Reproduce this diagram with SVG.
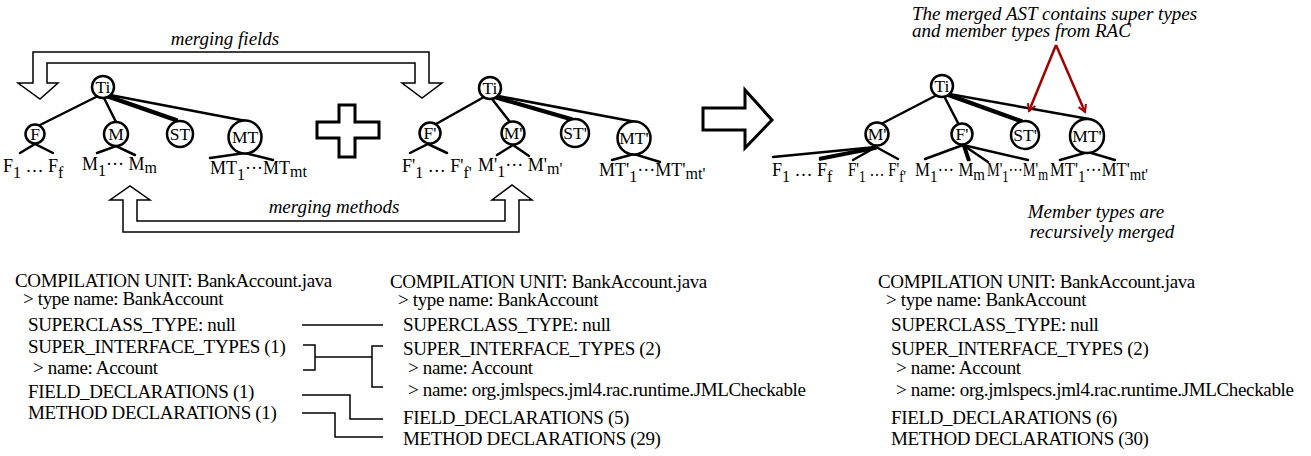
<svg xmlns="http://www.w3.org/2000/svg" width="1311" height="456" viewBox="0 0 1311 456">
<style>
text{font-family:"Liberation Serif","Times New Roman",serif;fill:#000}
.nl{font-size:17.5px;text-anchor:middle}
.leaf{font-size:18px}
.sub{font-size:16px}
.it{font-style:italic;font-size:19px}
.ann{font-style:italic;font-size:19px}
.code{font-size:19px;letter-spacing:-0.35px}
.node circle{fill:#fff;stroke:#000;stroke-width:2.5}
.edge{stroke:#000;stroke-width:2.5;fill:none;stroke-linecap:round}
.thin{stroke:#000;stroke-width:1.5;fill:none}
.block{fill:#fff;stroke:#000;stroke-width:1.5;stroke-linejoin:miter}
.thick{fill:#fff;stroke:#000;stroke-width:3;stroke-linejoin:miter}
.red{stroke:#a00000;stroke-width:2.5;fill:none}
</style>
<defs>
<marker id="rh" markerWidth="10" markerHeight="10" refX="8" refY="5" orient="auto" markerUnits="userSpaceOnUse">
<path d="M1,1 L8,5 L1,9" fill="none" stroke="#a00000" stroke-width="2"/>
</marker>
</defs>

<!-- block arrows and plus -->
<g id="merge-fields-arrow">
<polygon class="block" points="33,83 33,52 429,52 429,83 442,83 422,98 402,83 415,83 415,63 47,63 47,83 58,83 40,99 18,83"/>
<text class="it" x="225" y="45" text-anchor="middle">merging fields</text>
</g>
<g id="merge-methods-arrow">
<polygon class="block" points="123,200 110,200 130,186 150,200 137,200 137,221 505,221 505,200 492,200 512,185 532,200 519,200 519,232 123,232"/>
<text class="it" x="334" y="213" text-anchor="middle">merging methods</text>
</g>
<g id="plus">
<polygon class="thick" points="339,105 355,105 355,122 379,122 379,138 355,138 355,157 339,157 339,138 317,138 317,122 339,122"/>
</g>
<g id="result-arrow">
<polygon class="thick" points="703,108 745,108 745,90 772,120 745,148 745,130 703,130"/>
</g>

<!-- connectors -->
<g id="connectors">
<!-- left tree -->
<line class="edge" x1="98" y1="96" x2="40" y2="125"/>
<line class="edge" x1="104" y1="98" x2="116" y2="122"/>
<line class="edge" x1="107" y1="97" x2="176" y2="121"/>
<line class="edge" x1="108" y1="95.5" x2="177" y2="119.5"/>
<line class="edge" x1="110" y1="95" x2="246" y2="121"/>
<polyline class="edge" points="20,153 35,144 53,153"/>
<polyline class="edge" points="97,153 116,146 135,155"/>
<polyline class="edge" points="210,158 245,153 273,160"/>
<!-- middle tree -->
<line class="edge" x1="484" y1="97" x2="436" y2="124"/>
<line class="edge" x1="492" y1="99" x2="510" y2="122"/>
<line class="edge" x1="495" y1="98" x2="571" y2="120"/>
<line class="edge" x1="496" y1="96.5" x2="572" y2="118.5"/>
<line class="edge" x1="498" y1="96" x2="636" y2="122"/>
<polyline class="edge" points="410,153 428,144 447,153"/>
<polyline class="edge" points="497,155 513,145 529,156"/>
<polyline class="edge" points="612,160 634,154 660,162"/>
<!-- merged tree -->
<line class="edge" x1="937" y1="95" x2="883" y2="123"/>
<line class="edge" x1="944" y1="96" x2="958" y2="123"/>
<line class="edge" x1="946" y1="95" x2="1021" y2="122"/>
<line class="edge" x1="947" y1="93.5" x2="1022" y2="120.5"/>
<line class="edge" x1="949" y1="94" x2="1089" y2="119"/>
<line class="edge" x1="876" y1="147" x2="773" y2="157"/>
<line class="edge" x1="876" y1="147" x2="820" y2="158"/>
<line class="edge" x1="876" y1="148.5" x2="820" y2="159.5"/>
<line class="edge" x1="876" y1="147" x2="853" y2="160"/>
<line class="edge" x1="876" y1="147" x2="898" y2="159"/>
<line class="edge" x1="963" y1="145" x2="925" y2="159"/>
<line class="edge" x1="963" y1="145" x2="968" y2="160"/>
<line class="edge" x1="964.5" y1="145" x2="969.5" y2="160"/>
<line class="edge" x1="963" y1="145" x2="988" y2="162"/>
<line class="edge" x1="963" y1="145" x2="1028" y2="160"/>
<polyline class="edge" points="1060,160 1088,152 1115,160"/>
<!-- red annotation arrows -->
<line class="red" x1="1056" y1="45" x2="1029" y2="111" marker-end="url(#rh)"/>
<line class="red" x1="1056" y1="45" x2="1085" y2="112" marker-end="url(#rh)"/>
<!-- compilation unit mapping -->
<line class="thin" x1="302" y1="325" x2="383" y2="325"/>
<polyline class="thin" points="303,345 315,345 315,370 303,370"/>
<line class="thin" x1="315" y1="357" x2="372" y2="357"/>
<polyline class="thin" points="383,346 372,346 372,387 383,387"/>
<polyline class="thin" points="302,395 350,395 350,419 383,419"/>
<polyline class="thin" points="302,413 335,413 335,437 383,437"/>
</g>

<!-- left tree nodes -->
<g id="L-Ti" class="node"><circle cx="103" cy="87" r="11"/><text class="nl" x="103" y="93">Ti</text></g>
<g id="L-F" class="node"><circle cx="35" cy="134" r="9.5"/><text class="nl" x="35" y="140">F</text></g>
<g id="L-M" class="node"><circle cx="116" cy="134" r="12"/><text class="nl" x="116" y="140">M</text></g>
<g id="L-ST" class="node"><circle cx="180" cy="134" r="13"/><text class="nl" x="180" y="140">ST</text></g>
<g id="L-MT" class="node"><circle cx="245" cy="137" r="16.5"/><text class="nl" x="245" y="143">MT</text></g>
<g id="L-Fleaves"><text class="leaf" x="3" y="172">F<tspan class="sub" dy="6">1</tspan><tspan dy="-6"> … F</tspan><tspan class="sub" dy="6">f</tspan></text></g>
<g id="L-Mleaves"><text class="leaf" x="82" y="170">M<tspan class="sub" dy="6">1</tspan><tspan dy="-6">··· M</tspan><tspan class="sub" dy="3">m</tspan></text></g>
<g id="L-MTleaves"><text class="leaf" x="210" y="174">MT<tspan class="sub" dy="6">1</tspan><tspan dy="-6">···MT</tspan><tspan class="sub" dy="3">mt</tspan></text></g>

<!-- middle tree nodes -->
<g id="R-Ti" class="node"><circle cx="490" cy="88" r="11"/><text class="nl" x="490" y="94">Ti</text></g>
<g id="R-F" class="node"><circle cx="430" cy="133" r="10.5"/><text class="nl" x="430" y="139">F'</text></g>
<g id="R-M" class="node"><circle cx="513" cy="133" r="11.5"/><text class="nl" x="513" y="139">M'</text></g>
<g id="R-ST" class="node"><circle cx="575" cy="133" r="14"/><text class="nl" x="575" y="139">ST'</text></g>
<g id="R-MT" class="node"><circle cx="634" cy="138" r="16.5"/><text class="nl" x="634" y="144">MT'</text></g>
<g id="R-Fleaves"><text class="leaf" x="402" y="172">F'<tspan class="sub" dy="6">1</tspan><tspan dy="-6"> … F'</tspan><tspan class="sub" dy="6">f'</tspan></text></g>
<g id="R-Mleaves"><text class="leaf" x="478" y="171">M'<tspan class="sub" dy="6">1</tspan><tspan dy="-6">··· M'</tspan><tspan class="sub" dy="3">m'</tspan></text></g>
<g id="R-MTleaves"><text class="leaf" x="599" y="176">MT'<tspan class="sub" dy="6">1</tspan><tspan dy="-6">···MT'</tspan><tspan class="sub" dy="3">mt'</tspan></text></g>

<!-- merged tree nodes -->
<g id="M-Ti" class="node"><circle cx="942" cy="86" r="11"/><text class="nl" x="942" y="92">Ti</text></g>
<g id="M-M" class="node"><circle cx="877" cy="134" r="11.5"/><text class="nl" x="877" y="140">M'</text></g>
<g id="M-F" class="node"><circle cx="962" cy="134" r="10.5"/><text class="nl" x="962" y="140">F'</text></g>
<g id="M-ST" class="node"><circle cx="1025" cy="135" r="14"/><text class="nl" x="1025" y="141">ST'</text></g>
<g id="M-MT" class="node"><circle cx="1087" cy="136" r="17"/><text class="nl" x="1087" y="142">MT'</text></g>
<g id="M-leaves">
<text class="leaf" x="772" y="176">F<tspan class="sub" dy="6">1</tspan><tspan dy="-6"> … F</tspan><tspan class="sub" dy="6">f</tspan></text>
<text class="leaf" x="848" y="176" textLength="58" lengthAdjust="spacingAndGlyphs">F'<tspan class="sub" dy="6">1</tspan><tspan dy="-6"> … F'</tspan><tspan class="sub" dy="6">f'</tspan></text>
<text class="leaf" x="915" y="176" textLength="70" lengthAdjust="spacingAndGlyphs">M<tspan class="sub" dy="6">1</tspan><tspan dy="-6">··· M</tspan><tspan class="sub" dy="4">m</tspan></text>
<text class="leaf" x="987" y="176" textLength="61" lengthAdjust="spacingAndGlyphs">M'<tspan class="sub" dy="6">1</tspan><tspan dy="-6">···M'</tspan><tspan class="sub" dy="4">m</tspan></text>
<text class="leaf" x="1050" y="176" textLength="98" lengthAdjust="spacingAndGlyphs">MT'<tspan class="sub" dy="6">1</tspan><tspan dy="-6">···MT'</tspan><tspan class="sub" dy="4">mt'</tspan></text>
</g>

<!-- annotations -->
<g id="annotation-top">
<text class="ann" x="912" y="20">The merged AST contains super types</text>
<text class="ann" x="912" y="37">and member types from RAC</text>
</g>
<g id="annotation-bottom">
<text class="ann" x="1096" y="218" text-anchor="middle">Member types are</text>
<text class="ann" x="1102" y="238" text-anchor="middle">recursively merged</text>
</g>

<!-- compilation unit listings -->
<g id="cu-left">
<text class="code" x="15" y="287">COMPILATION UNIT: BankAccount.java</text>
<text class="code" x="23" y="305">&gt; type name: BankAccount</text>
<text class="code" x="28" y="331">SUPERCLASS_TYPE: null</text>
<text class="code" x="28" y="353">SUPER_INTERFACE_TYPES (1)</text>
<text class="code" x="33" y="374">&gt; name: Account</text>
<text class="code" x="28" y="398">FIELD_DECLARATIONS (1)</text>
<text class="code" x="28" y="419">METHOD DECLARATIONS (1)</text>
</g>
<g id="cu-rac">
<text class="code" x="390" y="288">COMPILATION UNIT: BankAccount.java</text>
<text class="code" x="398" y="306">&gt; type name: BankAccount</text>
<text class="code" x="403" y="331">SUPERCLASS_TYPE: null</text>
<text class="code" x="403" y="355">SUPER_INTERFACE_TYPES (2)</text>
<text class="code" x="408" y="374">&gt; name: Account</text>
<text class="code" x="408" y="396">&gt; name: org.jmlspecs.jml4.rac.runtime.JMLCheckable</text>
<text class="code" x="403" y="424">FIELD_DECLARATIONS (5)</text>
<text class="code" x="403" y="445">METHOD DECLARATIONS (29)</text>
</g>
<g id="cu-merged">
<text class="code" x="878" y="288">COMPILATION UNIT: BankAccount.java</text>
<text class="code" x="886" y="306">&gt; type name: BankAccount</text>
<text class="code" x="891" y="331">SUPERCLASS_TYPE: null</text>
<text class="code" x="891" y="355">SUPER_INTERFACE_TYPES (2)</text>
<text class="code" x="896" y="374">&gt; name: Account</text>
<text class="code" x="896" y="396">&gt; name: org.jmlspecs.jml4.rac.runtime.JMLCheckable</text>
<text class="code" x="891" y="424">FIELD_DECLARATIONS (6)</text>
<text class="code" x="891" y="445">METHOD DECLARATIONS (30)</text>
</g>
</svg>
